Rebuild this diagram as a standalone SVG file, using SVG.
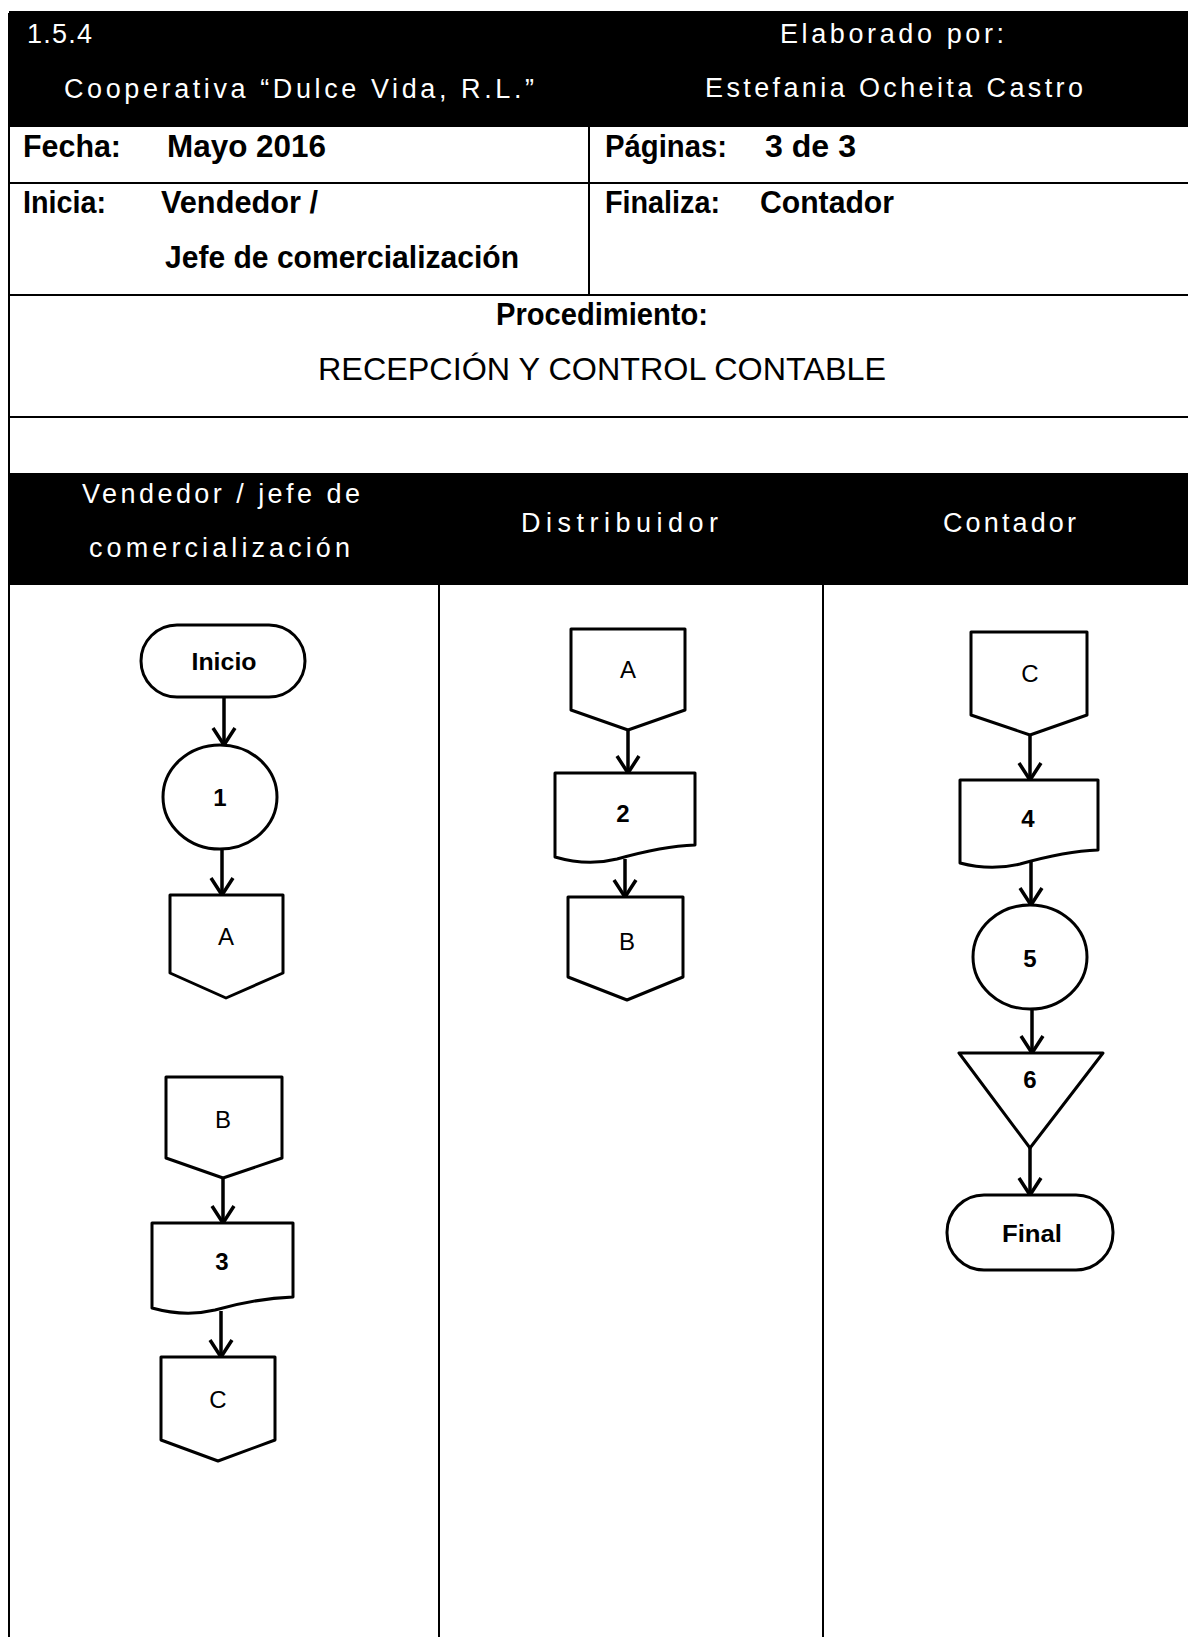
<svg xmlns="http://www.w3.org/2000/svg" width="1188" height="1637" viewBox="0 0 1188 1637">
<style>
.tl{stroke:#000;stroke-width:2;fill:none}
.band{fill:#000}
.wt{font-family:"Liberation Sans",Arial,sans-serif;fill:#fff;font-size:27px}
.bt{font-family:"Liberation Sans",Arial,sans-serif;fill:#000;font-size:31px;font-weight:bold}
.rt{font-family:"Liberation Sans",Arial,sans-serif;fill:#000;font-size:31px}
.sh{stroke:#000;stroke-width:3;fill:#fff;stroke-linejoin:round}
.lb{font-family:"Liberation Sans",Arial,sans-serif;fill:#000;font-size:24px;text-anchor:middle}
.lbb{font-family:"Liberation Sans",Arial,sans-serif;fill:#000;font-size:24px;font-weight:bold;text-anchor:middle}
.cn{stroke:#000;stroke-width:3.5;fill:none;marker-end:url(#arr)}
</style>
<defs>
<marker id="arr" markerUnits="userSpaceOnUse" markerWidth="30" markerHeight="30" viewBox="-20 -15 24 30" refX="0" refY="0" orient="auto">
<path d="M-17,-11 L0,0 L-17,11" fill="none" stroke="#000" stroke-width="3.5" stroke-linejoin="miter"/>
</marker>
</defs>
<rect width="1188" height="1637" fill="#fff"/>
<g id="header">
<rect class="band" x="9" y="13" width="1179" height="114"/>
<line class="tl" x1="9" y1="12" x2="1188" y2="12"/>
<text class="wt" x="27" y="43" textLength="65" lengthAdjust="spacing">1.5.4</text>
<text class="wt" x="780" y="43" textLength="224" lengthAdjust="spacing">Elaborado por:</text>
<text class="wt" x="64" y="98" textLength="470" lengthAdjust="spacing">Cooperativa “Dulce Vida, R.L.”</text>
<text class="wt" x="705" y="97" textLength="378" lengthAdjust="spacing">Estefania Ocheita Castro</text>
<line class="tl" x1="9" y1="183" x2="1188" y2="183"/>
<line class="tl" x1="9" y1="295" x2="1188" y2="295"/>
<line class="tl" x1="9" y1="417" x2="1188" y2="417"/>
<line class="tl" x1="589" y1="127" x2="589" y2="295"/>
<line class="tl" x1="9" y1="13" x2="9" y2="1637"/>
<text class="bt" x="23" y="157" textLength="98" lengthAdjust="spacingAndGlyphs">Fecha:</text>
<text class="bt" x="167" y="157" textLength="159" lengthAdjust="spacingAndGlyphs">Mayo 2016</text>
<text class="bt" x="605" y="157" textLength="122" lengthAdjust="spacingAndGlyphs">Páginas:</text>
<text class="bt" x="765" y="157" textLength="91" lengthAdjust="spacingAndGlyphs">3 de 3</text>
<text class="bt" x="23" y="213" textLength="83" lengthAdjust="spacingAndGlyphs">Inicia:</text>
<text class="bt" x="161" y="213" textLength="157" lengthAdjust="spacingAndGlyphs">Vendedor /</text>
<text class="bt" x="605" y="213" textLength="115" lengthAdjust="spacingAndGlyphs">Finaliza:</text>
<text class="bt" x="760" y="213" textLength="134" lengthAdjust="spacingAndGlyphs">Contador</text>
<text class="bt" x="165" y="268" textLength="354" lengthAdjust="spacingAndGlyphs">Jefe de comercialización</text>
<text class="bt" x="496" y="325" textLength="212" lengthAdjust="spacingAndGlyphs">Procedimiento:</text>
<text class="rt" x="318" y="380" textLength="568" lengthAdjust="spacingAndGlyphs">RECEPCIÓN Y CONTROL CONTABLE</text>
</g>
<g id="lanes">
<rect class="band" x="9" y="473" width="1179" height="112"/>
<text class="wt" x="82" y="503" textLength="278" lengthAdjust="spacing">Vendedor / jefe de</text>
<text class="wt" x="89" y="557" textLength="261" lengthAdjust="spacing">comercialización</text>
<text class="wt" x="521" y="532" textLength="197" lengthAdjust="spacing">Distribuidor</text>
<text class="wt" x="943" y="532" textLength="133" lengthAdjust="spacing">Contador</text>
<line class="tl" x1="439" y1="585" x2="439" y2="1637"/>
<line class="tl" x1="823" y1="585" x2="823" y2="1637"/>
</g>
<g id="connectors">
<line class="cn" x1="224" y1="697" x2="224" y2="745"/>
<line class="cn" x1="222" y1="850" x2="222" y2="895"/>
<line class="cn" x1="223" y1="1178" x2="223" y2="1223"/>
<line class="cn" x1="221" y1="1311" x2="221" y2="1357"/>
<line class="cn" x1="628" y1="730" x2="628" y2="773"/>
<line class="cn" x1="625" y1="859" x2="625" y2="897"/>
<line class="cn" x1="1030" y1="735" x2="1030" y2="780"/>
<line class="cn" x1="1031" y1="862" x2="1031" y2="905"/>
<line class="cn" x1="1032" y1="1010" x2="1032" y2="1053"/>
<line class="cn" x1="1030" y1="1148" x2="1030" y2="1195"/>
</g>
<g id="inicio">
<rect class="sh" x="141" y="625" width="164" height="72" rx="36" ry="36"/>
<text class="lbb" x="224" y="670" font-size="25" textLength="65" lengthAdjust="spacingAndGlyphs">Inicio</text>
</g>
<g id="op1">
<ellipse class="sh" cx="220" cy="797" rx="57" ry="52"/>
<text class="lbb" x="220" y="806">1</text>
</g>
<g id="connA1">
<polygon class="sh" points="170,895 283,895 283,973 226,998 170,973"/>
<text class="lb" x="226" y="945">A</text>
</g>
<g id="connB1">
<polygon class="sh" points="166,1077 282,1077 282,1158 223,1178 166,1158"/>
<text class="lb" x="223" y="1128">B</text>
</g>
<g id="doc3">
<path class="sh" d="M152,1223 H293 V1297 C265,1298 240,1303 215,1310 C190,1316 170,1313 152,1308 Z"/>
<text class="lbb" x="222" y="1270">3</text>
</g>
<g id="connC1">
<polygon class="sh" points="161,1357 275,1357 275,1440 218,1461 161,1440"/>
<text class="lb" x="218" y="1408">C</text>
</g>
<g id="connA2">
<polygon class="sh" points="571,629 685,629 685,710 628,730 571,710"/>
<text class="lb" x="628" y="678">A</text>
</g>
<g id="doc2">
<path class="sh" d="M555,773 H695 V845 C667,846 642,852 617,859 C593,865 572,862 555,857 Z"/>
<text class="lbb" x="623" y="822">2</text>
</g>
<g id="connB2">
<polygon class="sh" points="568,897 683,897 683,977 627,1000 568,977"/>
<text class="lb" x="627" y="950">B</text>
</g>
<g id="connC3">
<polygon class="sh" points="971,632 1087,632 1087,715 1030,735 971,715"/>
<text class="lb" x="1030" y="682">C</text>
</g>
<g id="doc4">
<path class="sh" d="M960,780 H1098 V850 C1070,851 1045,857 1020,864 C995,870 975,867 960,863 Z"/>
<text class="lbb" x="1028" y="827">4</text>
</g>
<g id="op5">
<ellipse class="sh" cx="1030" cy="957" rx="57" ry="52"/>
<text class="lbb" x="1030" y="967">5</text>
</g>
<g id="store6">
<polygon class="sh" points="959,1053 1103,1053 1030,1148"/>
<text class="lbb" x="1030" y="1088">6</text>
</g>
<g id="final">
<rect class="sh" x="947" y="1195" width="166" height="75" rx="37" ry="37"/>
<text class="lbb" x="1032" y="1242" font-size="25" textLength="60" lengthAdjust="spacingAndGlyphs">Final</text>
</g>
</svg>
